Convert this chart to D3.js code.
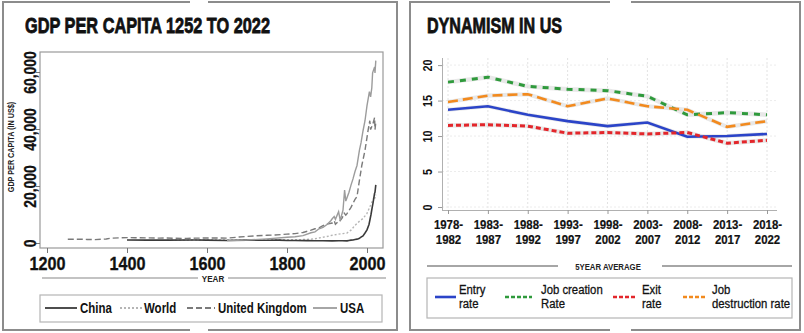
<!DOCTYPE html>
<html><head><meta charset="utf-8">
<script src="https://cdn.jsdelivr.net/npm/d3@7"></script>
<style>
html,body{margin:0;padding:0;background:#fff;}
svg{display:block;}
text{font-family:'Liberation Sans',Arial,sans-serif;}
</style></head><body>
<svg id="c" width="804" height="333"></svg>
<script>
// ---------- Left chart data (GDP per capita, US$) ----------
const gdpTitle = "GDP PER CAPITA 1252 TO 2022";
const yearTicks = [1200, 1400, 1600, 1800, 2000];
const gdpTicks = [0, 20000, 40000, 60000];
const gdpSeriesNames = ["China", "World", "United Kingdom", "USA"];

const chinaYears = [1400,1450,1500,1570,1600,1650,1700,1750,1780,1800,1820,1850,1870,1890,1913,1929,1938,1950,1955,1960,1965,1970,1975,1980,1985,1990,1995,2000,2005,2008,2010,2013,2015,2018,2019,2020,2022];
const chinaGdp   = [1050,1000,1000,1050,1000,900,1000,950,1000,900,880,850,800,780,750,800,800,750,900,1000,1050,1200,1350,1550,2050,2500,3500,4600,6500,8600,10000,12500,14000,16600,17500,17800,20400];

const worldYears = [1500,1600,1700,1820,1850,1870,1900,1913,1929,1940,1950,1960,1970,1980,1990,2000,2005,2010,2015,2019,2020,2022];
const worldGdp   = [1000,1050,1100,1150,1250,1500,2300,2700,3100,3300,3500,4500,6200,7500,8600,10400,12000,13600,15200,16300,15700,17000];

const ukYears = [1252,1270,1290,1300,1320,1348,1360,1380,1400,1420,1450,1480,1500,1520,1550,1570,1600,1620,1650,1680,1700,1720,1750,1770,1800,1820,1840,1860,1870,1880,1890,1900,1913,1918,1921,1929,1931,1938,1943,1947,1950,1955,1960,1965,1970,1975,1980,1987,1995,2003,2007,2009,2015,2019,2020,2022];
const ukGdp   = [1300,1350,1300,1250,1200,1400,1700,1800,1900,1850,1800,1700,1750,1650,1600,1700,1750,1800,1700,2100,2300,2500,2700,2800,3100,3300,3700,4500,5000,5300,6100,6600,7000,7800,6600,7700,7500,8800,10500,9800,10300,11400,12500,13900,15300,16300,21000,27200,32500,39800,42900,39800,41900,44000,39800,42400];

const usaYears = [1650,1700,1750,1800,1820,1840,1860,1870,1880,1890,1900,1910,1913,1918,1921,1929,1933,1937,1940,1944,1947,1950,1955,1960,1965,1970,1975,1981,1985,1990,1995,2000,2006,2009,2012,2014,2019,2020,2022];
const usaGdp   = [900,1050,1450,2000,2200,2600,3600,3900,5000,5500,6500,7900,8500,9300,8300,11000,7900,10000,11500,18600,14700,15900,17800,20300,22500,25100,27200,32500,35100,39300,42900,48200,53100,51300,54400,59700,61800,59700,64000];

// ---------- Right chart data (Dynamism in US, %) ----------
const dynTitle = "DYNAMISM IN US";
const periods = ["1978-1982","1983-1987","1988-1992","1993-1997","1998-2002","2003-2007","2008-2012","2013-2017","2018-2022"];
const rateTicks = [0, 5, 10, 15, 20];
const entryRate          = [13.7,14.2,13.0,12.1,11.4,11.9,9.9,10.0,10.3];
const jobCreationRate    = [17.6,18.3,17.0,16.6,16.4,15.6,13.0,13.3,13.0];
const exitRate           = [11.5,11.6,11.4,10.4,10.5,10.3,10.5,9.0,9.4];
const jobDestructionRate = [14.8,15.7,15.9,14.2,15.3,14.2,13.7,11.3,12.1];

const svg = d3.select("#c");

// condensed text helper (scaled horizontally)
function ctext(parent, x, y, str, o) {
  o = o || {};
  const sx = o.sx || 0.85, rot = o.rot || 0;
  return parent.append("text")
    .attr("transform", `translate(${x},${y}) rotate(${rot}) scale(${sx},1)`)
    .attr("text-anchor", o.anchor || "start")
    .attr("font-size", o.size || 12).attr("font-weight", o.weight || 700)
    .attr("fill", o.fill || "#111").text(str);
}

// ---------- Panel frames ----------
function frame(x0, x1, y0, y1, g0, g1) {
  const p = d3.path();
  p.moveTo(g1, y0); p.lineTo(x1, y0); p.lineTo(x1, y1); p.lineTo(g1, y1);
  p.moveTo(g0, y1); p.lineTo(x0, y1); p.lineTo(x0, y0); p.lineTo(g0, y0);
  svg.append("path").attr("d", p.toString()).attr("fill", "none")
    .attr("stroke", "#8c8c8c").attr("stroke-width", 2);
}
frame(3, 397, 2, 330, 190, 208);
frame(410, 800, 2, 330, 610, 631);

// ================= LEFT CHART =================
const L = svg.append("g");
L.append("text").attr("x", 25).attr("y", 33).text(gdpTitle)
  .attr("font-size", 22).attr("font-weight", 700).attr("fill", "#111")
  .attr("stroke", "#111").attr("stroke-width", 0.8)
  .attr("textLength", 245).attr("lengthAdjust", "spacingAndGlyphs");

const xL = d3.scaleLinear().domain([1182.5, 2040]).range([40, 383]);
const yL = d3.scaleLinear().domain([-1754, 67018]).range([248, 52]);

L.append("rect").attr("x", 40).attr("y", 52).attr("width", 343).attr("height", 196)
  .attr("fill", "none").attr("stroke", "#9a9a9a").attr("stroke-width", 1.2);

// x axis
const xAx = L.append("g").attr("transform", "translate(0,248)")
  .call(d3.axisBottom(xL).tickValues(yearTicks).tickFormat(d3.format("d")).tickSize(5).tickPadding(4));
xAx.select(".domain").remove();
xAx.selectAll("line").attr("stroke", "#777");
xAx.selectAll("text").attr("font-size", 18).attr("font-weight", 700).attr("fill", "#111")
  .attr("stroke", "#111").attr("stroke-width", 0.3)
  .attr("transform", "scale(0.9,1)");

// y axis
const yAx = L.append("g").attr("transform", "translate(40,0)")
  .call(d3.axisLeft(yL).tickValues(gdpTicks).tickFormat(d3.format(",")).tickSize(4).tickPadding(4));
yAx.select(".domain").remove();
yAx.selectAll("line").attr("stroke", "#777");
yAx.selectAll("text").attr("font-size", 17).attr("font-weight", 700).attr("fill", "#111")
  .attr("stroke", "#111").attr("stroke-width", 0.3)
  .attr("text-anchor", "middle").attr("dy", 0).attr("x", 0).attr("y", 0)
  .attr("transform", "translate(-4,0) rotate(-90) scale(0.82,1)");

ctext(L, 14, 147, "GDP PER CAPITA (IN US$)", {rot: -90, anchor: "middle", size: 8.5, sx: 0.85, fill: "#222"});

// Year label with rules
L.append("line").attr("x1", 42).attr("x2", 198).attr("y1", 278).attr("y2", 278).attr("stroke", "#888").attr("stroke-width", 1.2);
L.append("line").attr("x1", 228).attr("x2", 386).attr("y1", 278).attr("y2", 278).attr("stroke", "#888").attr("stroke-width", 1.2);
ctext(L, 213, 281.5, "YEAR", {anchor: "middle", size: 9, sx: 0.9, fill: "#222"});

const gdpStyles = [
  {name: "China", years: chinaYears, vals: chinaGdp, color: "#3a3a3a", dash: null, w: 1.6},
  {name: "World", years: worldYears, vals: worldGdp, color: "#b5b5b5", dash: "2,2", w: 1.4},
  {name: "United Kingdom", years: ukYears, vals: ukGdp, color: "#7a7a7a", dash: "6,3", w: 1.4},
  {name: "USA", years: usaYears, vals: usaGdp, color: "#9c9c9c", dash: null, w: 1.4}
];
const lineL = d3.line().x(d => xL(d[0])).y(d => yL(d[1]));
[1, 0, 2, 3].forEach(i => {
  const s = gdpStyles[i];
  L.append("path").datum(s.years.map((y, k) => [y, s.vals[k]]))
    .attr("d", lineL).attr("fill", "none").attr("stroke", s.color)
    .attr("stroke-width", s.w).attr("stroke-dasharray", s.dash);
});

// legend
L.append("rect").attr("x", 40).attr("y", 295).attr("width", 342).attr("height", 27)
  .attr("fill", "none").attr("stroke", "#b5b5b5").attr("stroke-width", 1.2);
const legL = [[45, 77, 80], [120, 142, 144], [187, 215, 218], [313, 337, 340]];
gdpStyles.forEach((s, i) => {
  const [a, b, t] = legL[i];
  L.append("line").attr("x1", a).attr("x2", b).attr("y1", 308).attr("y2", 308)
    .attr("stroke", s.color).attr("stroke-width", 1.8).attr("stroke-dasharray", s.dash);
  ctext(L, t, 313, s.name, {size: 14, sx: 0.82});
});

// ================= RIGHT CHART =================
const R = svg.append("g");
R.append("text").attr("x", 427).attr("y", 33).text(dynTitle)
  .attr("font-size", 22).attr("font-weight", 700).attr("fill", "#111")
  .attr("stroke", "#111").attr("stroke-width", 0.8)
  .attr("textLength", 135).attr("lengthAdjust", "spacingAndGlyphs");

const xR = d3.scalePoint().domain(periods).range([448, 767]);
const yR = d3.scaleLinear().domain([-0.42, 21]).range([210, 58]);

// grid
R.append("g").selectAll("line").data(periods).join("line")
  .attr("x1", d => xR(d)).attr("x2", d => xR(d)).attr("y1", 58).attr("y2", 210)
  .attr("stroke", "#e2e2e2").attr("stroke-width", 1).attr("stroke-dasharray", "2,2");
R.append("g").selectAll("line").data(rateTicks).join("line")
  .attr("x1", 442).attr("x2", 777).attr("y1", d => yR(d)).attr("y2", d => yR(d))
  .attr("stroke", "#ececec").attr("stroke-width", 1).attr("stroke-dasharray", "2,2");

const xAxR = R.append("g").attr("transform", "translate(0,210)")
  .call(d3.axisBottom(xR).tickSize(4).tickPadding(3).tickSizeOuter(0));
xAxR.select(".domain").attr("stroke", "#b0b0b0").attr("d", "M442,0.5H777");
xAxR.selectAll("line").attr("stroke", "#999");
xAxR.selectAll("text").each(function(d) {
  const t = d3.select(this).text("").attr("font-size", 13).attr("font-weight", 700).attr("fill", "#111")
    .attr("stroke", "#111").attr("stroke-width", 0.2)
    .attr("transform", "scale(0.88,1)");
  const parts = d.split("-");
  t.append("tspan").attr("x", 0).attr("dy", "0.95em").text(parts[0] + "-");
  t.append("tspan").attr("x", 0).attr("dy", "1.12em").text(parts[1]);
});

const yAxR = R.append("g").attr("transform", "translate(442,0)")
  .call(d3.axisLeft(yR).tickValues(rateTicks).tickSize(4).tickPadding(3).tickSizeOuter(0));
yAxR.select(".domain").attr("stroke", "#b0b0b0").attr("d", "M0.5,58V210");
yAxR.selectAll("line").attr("stroke", "#999");
yAxR.selectAll("text").attr("font-size", 12).attr("font-weight", 700).attr("fill", "#111")
  .attr("text-anchor", "middle").attr("dy", 0).attr("x", 0).attr("y", 0)
  .attr("transform", "translate(-10,0) rotate(-90) scale(0.9,1)");

const rateSeries = [
  {name: "Entry rate", lines: ["Entry", "rate"], vals: entryRate, color: "#2b44c8", dash: null, w: 2.6},
  {name: "Job creation Rate", lines: ["Job creation", "Rate"], vals: jobCreationRate, color: "#2f9a3c", dash: "6,6", w: 3},
  {name: "Exit rate", lines: ["Exit", "rate"], vals: exitRate, color: "#e3262b", dash: "5,3", w: 3},
  {name: "Job destruction rate", lines: ["Job", "destruction rate"], vals: jobDestructionRate, color: "#f28a1e", dash: "10,5", w: 2.6}
];
const lineR = d3.line().x((d, i) => xR(periods[i])).y(d => yR(d));
rateSeries.forEach(s => {
  R.append("path").datum(s.vals).attr("d", lineR).attr("fill", "none")
    .attr("stroke", "#d9d9d9").attr("stroke-width", s.w + 1.5).attr("opacity", 0.6);
});
[1, 3, 0, 2].forEach(i => {
  const s = rateSeries[i];
  R.append("path").datum(s.vals).attr("d", lineR).attr("fill", "none")
    .attr("stroke", s.color).attr("stroke-width", s.w).attr("stroke-dasharray", s.dash);
});

// 5 YEAR AVERAGE
R.append("line").attr("x1", 427).attr("x2", 558).attr("y1", 266).attr("y2", 266).attr("stroke", "#888").attr("stroke-width", 1.4);
R.append("line").attr("x1", 662).attr("x2", 792).attr("y1", 266).attr("y2", 266).attr("stroke", "#888").attr("stroke-width", 1.4);
ctext(R, 608, 269.5, "5YEAR AVERAGE", {anchor: "middle", size: 9.5, sx: 0.82, fill: "#222"});

// legend
R.append("rect").attr("x", 427).attr("y", 278).attr("width", 365).attr("height", 40)
  .attr("fill", "none").attr("stroke", "#b5b5b5").attr("stroke-width", 1.2);
const legR = [[435, 456, 459], [505, 532, 541], [613, 637, 642], [683, 707, 712]];
rateSeries.forEach((s, i) => {
  const [a, b, t] = legR[i];
  R.append("line").attr("x1", a).attr("x2", b).attr("y1", 297).attr("y2", 297)
    .attr("stroke", s.color).attr("stroke-width", 2.6).attr("stroke-dasharray", s.dash ? "4,2" : null);
  ctext(R, t, 294, s.lines[0], {size: 13.5, sx: 0.84, weight: 400}).attr("stroke", "#111").attr("stroke-width", 0.3);
  ctext(R, t, 308, s.lines[1], {size: 13.5, sx: 0.84, weight: 400}).attr("stroke", "#111").attr("stroke-width", 0.3);
});
</script>
</body></html>
